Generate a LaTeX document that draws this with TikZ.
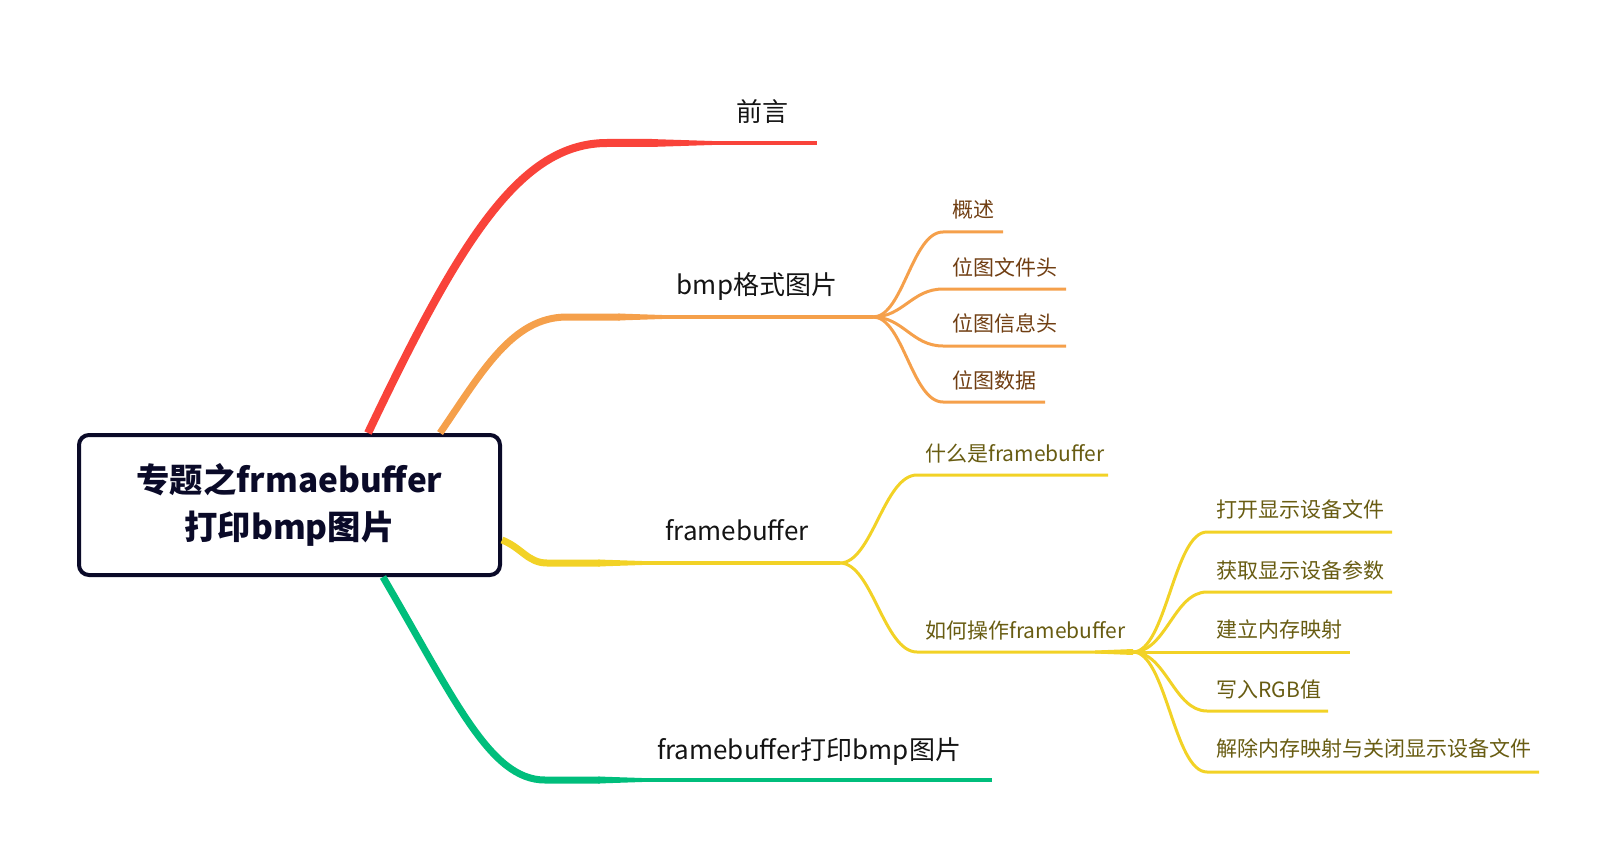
\documentclass[tikz,border=0pt]{standalone}
\usepackage{fontspec}
\setmainfont{Noto Sans CJK SC}

\definecolor{redbr}{RGB}{249,67,58}
\definecolor{orangebr}{RGB}{245,160,75}
\definecolor{yellowbr}{RGB}{242,210,38}
\definecolor{greenbr}{RGB}{0,190,124}
\definecolor{rootnavy}{RGB}{10,10,40}
\definecolor{labelblack}{RGB}{20,20,20}
\definecolor{orangetext}{RGB}{112,62,18}
\definecolor{yellowtext}{RGB}{104,92,18}

\tikzset{every picture/.style={line width=0.75pt}}

\begin{document}
\begin{tikzpicture}[x=0.75pt,y=0.75pt,yscale=-1,xscale=1,
  rootbox/.style={draw=rootnavy,line width=3pt,rounded corners=7.5pt,fill=white,align=center,
    minimum width=315.75pt,minimum height=105pt,text=rootnavy,
    font=\fontsize{25pt}{35pt}\selectfont\bfseries},
  mainlabel/.style={anchor=base,inner sep=0pt,text=labelblack,font=\fontsize{19.5pt}{24pt}\selectfont},
  orlabel/.style={anchor=base west,inner sep=0pt,text=orangetext,font=\fontsize{15.75pt}{19pt}\selectfont},
  yelabel/.style={anchor=base west,inner sep=0pt,text=yellowtext,font=\fontsize{15.75pt}{19pt}\selectfont},
  orsub/.style={draw=orangebr,line width=2.25pt},
  yesub/.style={draw=yellowbr,line width=2.25pt}]
\useasboundingbox (0,0) rectangle (1615,859);

% Root
\node [rootbox] (root) at (289.5,505) {专题之frmaebuffer\\打印bmp图片};

% Branch end points
\coordinate (preend) at (817,143);
\coordinate (bmpfork) at (873,317);
\coordinate (fbfork) at (840,563);
\coordinate (howfork) at (1133,652);
\coordinate (printend) at (992,780);

%Red branch
\draw [redbr,line width=6pt] ([xshift=58.9pt]root.north) .. controls (460,240) and (520,143) .. (607,143) -- (652,143) ;
\fill [redbr] (650,139) -- (712,141) -- (712,145) -- (650,147) -- cycle ;
\draw [redbr,line width=3pt] (710,143) -- (preend) ;
%Orange branch
\draw [orangebr,line width=5.25pt] ([xshift=112.9pt]root.north) .. controls (482,372) and (512,317) .. (567,317) -- (620,317) ;
\fill [orangebr] (618,313.5) -- (662,315) -- (662,319) -- (618,320.5) -- cycle ;
\draw [orangebr,line width=3pt] (660,317) -- (bmpfork) ;
%Yellow branch
\draw [yellowbr,line width=5.25pt] ([yshift=26.25pt]root.east) .. controls (522,548) and (528,563) .. (547,563) -- (600,563) ;
\fill [yellowbr] (598,559.5) -- (642,561) -- (642,565) -- (598,566.5) -- cycle ;
\draw [yellowbr,line width=3pt] (640,563) -- (fbfork) ;
%Green branch
\draw [greenbr,line width=5.25pt] ([xshift=70.1pt]root.south) .. controls (455,700) and (490,780) .. (545,780) -- (600,780) ;
\fill [greenbr] (598,776.5) -- (642,778) -- (642,782) -- (598,783.5) -- cycle ;
\draw [greenbr,line width=3pt] (640,780) -- (printend) ;

%Orange sub branches
\draw [orsub] (bmpfork) .. controls (903,317) and (912,232) .. (943,232) -- (1003,232) coordinate (bmpa) ;
\draw [orsub] (bmpfork) .. controls (903,317) and (912,289) .. (943,289) -- (1066,289) coordinate (bmpb) ;
\draw [orsub] (bmpfork) .. controls (903,317) and (912,346) .. (943,346) -- (1066,346) coordinate (bmpc) ;
\draw [orsub] (bmpfork) .. controls (903,317) and (912,402) .. (943,402) -- (1045,402) coordinate (bmpd) ;

%Yellow sub branches
\draw [yesub] (fbfork) .. controls (872,563) and (884,475) .. (917,475) -- (1108,475) coordinate (fba) ;
\draw [yesub] (fbfork) .. controls (872,563) and (884,652) .. (917,652) -- (howfork) ;
\fill [yellowbr] (1095,650.5) -- (1133,649) -- (1133,655) -- (1095,653.5) -- cycle ;
\draw [yesub] (howfork) .. controls (1166,652) and (1174,532) .. (1207,532) -- (1392,532) coordinate (howa) ;
\draw [yesub] (howfork) .. controls (1166,652) and (1174,592) .. (1207,592) -- (1392,592) coordinate (howb) ;
\draw [yesub] (howfork) -- (1350,652) coordinate (howc) ;
\draw [yesub] (howfork) .. controls (1166,652) and (1174,711) .. (1207,711) -- (1328,711) coordinate (howd) ;
\draw [yesub] (howfork) .. controls (1166,652) and (1174,772) .. (1207,772) -- (1539,772) coordinate (howe) ;

% Text Node
\node [mainlabel] (pre) at (762,122) {前言};
% Text Node
\node [mainlabel] (bmp) at (757,294) {bmp格式图片};
% Text Node
\node [mainlabel] (fb) at (737,540) {framebuffer};
% Text Node
\node [mainlabel] (print) at (809,759) {framebuffer打印bmp图片};

% Text Node
\node [orlabel] (overview) at (952,218) {概述};
% Text Node
\node [orlabel] (filehead) at (952,275) {位图文件头};
% Text Node
\node [orlabel] (infohead) at (952,331) {位图信息头};
% Text Node
\node [orlabel] (bmpdata) at (952,388) {位图数据};

% Text Node
\node [yelabel] (whatfb) at (925,461) {什么是framebuffer};
% Text Node
\node [yelabel] (howfb) at (925,638) {如何操作framebuffer};
% Text Node
\node [yelabel] (opendev) at (1216,517) {打开显示设备文件};
% Text Node
\node [yelabel] (getparam) at (1216,578) {获取显示设备参数};
% Text Node
\node [yelabel] (mmap) at (1216,637) {建立内存映射};
% Text Node
\node [yelabel] (rgb) at (1216,697) {写入RGB值};
% Text Node
\node [yelabel] (unmap) at (1216,756) {解除内存映射与关闭显示设备文件};

\end{tikzpicture}
\end{document}
